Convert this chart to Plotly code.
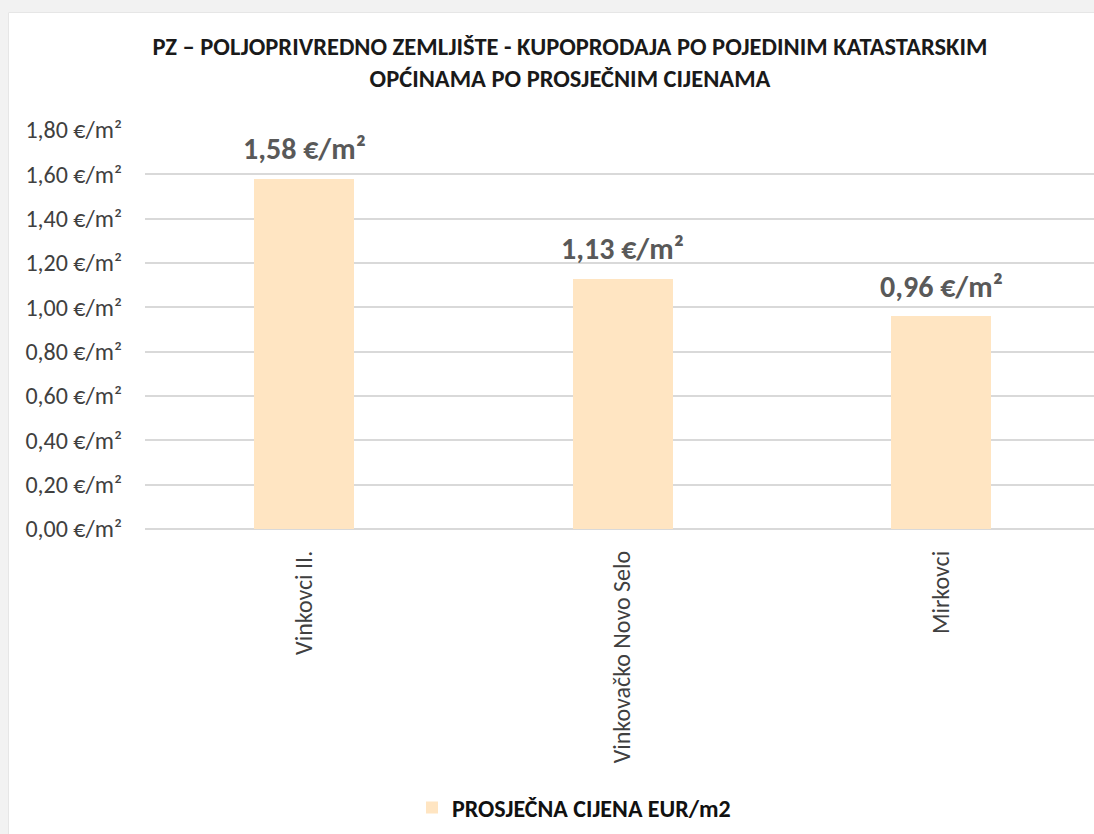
import plotly.graph_objects as go

categories = ["Vinkovci II.", "Vinkovačko Novo Selo", "Mirkovci"]
prices = [1.58, 1.13, 0.96]
price_labels = ["1,58 €/m²", "1,13 €/m²", "0,96 €/m²"]
tick_vals = [0.0, 0.2, 0.4, 0.6, 0.8, 1.0, 1.2, 1.4, 1.6, 1.8]
tick_text = ["0,00 €/m²", "0,20 €/m²", "0,40 €/m²", "0,60 €/m²", "0,80 €/m²",
             "1,00 €/m²", "1,20 €/m²", "1,40 €/m²", "1,60 €/m²", "1,80 €/m²"]
series_name = "PROSJEČNA CIJENA EUR/m2"
title_text = ("PZ – POLJOPRIVREDNO ZEMLJIŠTE - KUPOPRODAJA PO POJEDINIM KATASTARSKIM"
              "<br>OPĆINAMA PO PROSJEČNIM CIJENAMA")

W, H = 1094, 834
ML, MR, MT, MB = 145, 0, 130, 305
PW = W - ML - MR
PH = H - MT - MB

def px_x(p):
    return (p - ML) / PW

def px_y(p):
    return (H - MB - p) / PH

base_font = "Carlito, Calibri, Lato, 'Open Sans', sans-serif"

fig = go.Figure()
fig.add_trace(go.Bar(
    x=categories, y=prices, name="<b>" + series_name + "</b>",
    marker=dict(color="#FFE5C2", line=dict(width=0)),
    width=0.314,
    showlegend=True,
))

# data labels anchored to each bar's value
for cat, val, lab in zip(categories, prices, price_labels):
    fig.add_annotation(
        x=cat, y=val, xref="x", yref="y", text="<b>" + lab + "</b>",
        showarrow=False, xanchor="center", yanchor="middle", yshift=30,
        font=dict(family=base_font, size=30, color="#595959"),
    )

shapes = [
    dict(type="rect", xref="paper", yref="paper",
         x0=px_x(0), x1=px_x(W), y0=px_y(0), y1=px_y(13),
         fillcolor="#f2f2f2", line=dict(width=0), layer="below"),
    dict(type="rect", xref="paper", yref="paper",
         x0=px_x(0), x1=px_x(9), y0=px_y(0), y1=px_y(H),
         fillcolor="#f2f2f2", line=dict(width=0), layer="below"),
    dict(type="line", xref="paper", yref="paper",
         x0=px_x(9), x1=px_x(W), y0=px_y(12.5), y1=px_y(12.5),
         line=dict(color="#e6e6e6", width=1), layer="below"),
    dict(type="line", xref="paper", yref="paper",
         x0=px_x(8.5), x1=px_x(8.5), y0=px_y(12.5), y1=px_y(H),
         line=dict(color="#e6e6e6", width=1), layer="below"),
]

fig.update_layout(
    width=W, height=H,
    margin=dict(l=ML, r=MR, t=MT, b=MB, pad=0),
    paper_bgcolor="white", plot_bgcolor="white",
    font=dict(family=base_font, color="#404040"),
    title=dict(text="<b>" + title_text + "</b>", x=570 / W, xanchor="center",
               xref="container", yref="container", y=1 - 55 / H, yanchor="top",
               font=dict(family=base_font, size=24.5, color="#1a1a1a")),
    xaxis=dict(range=[-0.5, 2.48], tickangle=-90, showgrid=False,
               tickfont=dict(family=base_font, size=24, color="#404040"),
               ticks="", showline=False, zeroline=False, ticklabelstandoff=16),
    yaxis=dict(range=[0, 1.8], tickvals=tick_vals, ticktext=tick_text,
               showgrid=True, gridcolor="#d9d9d9", gridwidth=1.5,
               zeroline=True, zerolinecolor="#d9d9d9", zerolinewidth=1.5,
               tickfont=dict(family=base_font, size=24, color="#404040"),
               ticks="", ticklabelstandoff=22, fixedrange=True),
    legend=dict(orientation="h", x=px_x(574), xanchor="center",
                y=px_y(808), yanchor="middle",
                font=dict(family=base_font, size=24, color="#111111"),
                itemsizing="constant", itemwidth=30),
    shapes=shapes,
    bargap=0,
)

fig.write_html("out.html", config={"displayModeBar": False},
               post_script="document.body.style.margin='0';document.body.style.overflow='hidden';")
